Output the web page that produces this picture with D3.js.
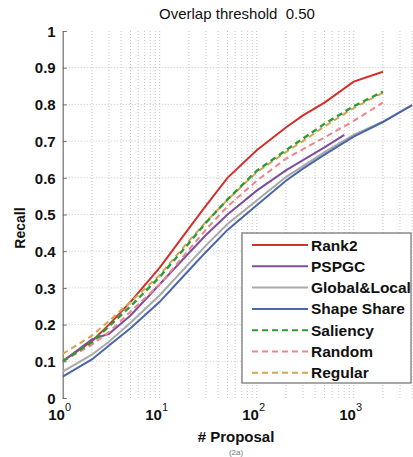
<!DOCTYPE html>
<html><head><meta charset="utf-8">
<script src="https://cdn.jsdelivr.net/npm/d3@7"></script>
<style>
html,body{margin:0;padding:0;background:#fff;}
svg text{font-family:"Liberation Sans",Arial,Helvetica,sans-serif;fill:#111;white-space:pre;}
</style></head>
<body>
<script>
// ---- data ----
const proposals = [1, 2, 3, 5, 10, 20, 30, 50, 100, 200, 300, 500, 800, 1000, 2000, 4000];
const seriesNames = ["Rank2", "PSPGC", "Global&Local", "Shape Share", "Saliency", "Random", "Regular"];
const rank2       = [0.100, 0.155, 0.200, 0.262, 0.355, 0.462, 0.524, 0.600, 0.675, 0.737, 0.770, 0.805, null, 0.862, 0.889, null];
const pspgc       = [0.100, 0.160, 0.175, 0.225, 0.310, 0.395, 0.444, 0.500, 0.565, 0.620, 0.648, 0.683, 0.717, null, null, null];
const globalLocal = [0.072, 0.118, 0.153, 0.205, 0.280, 0.366, 0.416, 0.474, 0.538, 0.602, 0.632, 0.670, null, 0.717, 0.753, 0.798];
const shapeShare  = [0.058, 0.105, 0.143, 0.190, 0.262, 0.348, 0.398, 0.458, 0.525, 0.592, 0.625, 0.663, null, 0.712, 0.752, 0.798];
const saliency    = [0.100, 0.152, 0.195, 0.250, 0.330, 0.422, 0.478, 0.541, 0.619, 0.675, 0.707, 0.747, null, 0.795, 0.835, null];
const randomS     = [0.100, 0.145, 0.180, 0.235, 0.310, 0.404, 0.459, 0.522, 0.592, 0.652, 0.678, 0.710, null, 0.755, 0.805, null];
const regular     = [0.120, 0.170, 0.210, 0.262, 0.335, 0.428, 0.480, 0.540, 0.615, 0.670, 0.700, 0.740, null, 0.790, 0.832, null];
const seriesValues = [rank2, pspgc, globalLocal, shapeShare, saliency, randomS, regular];
const seriesColors = ["#d2302a", "#7d4e9c", "#a9a9a9", "#4866a8", "#2e9a35", "#f0848a", "#d4a552"];
const seriesDashed = [false, false, false, false, true, true, true];
const yTicks = [0, 0.1, 0.2, 0.3, 0.4, 0.5, 0.6, 0.7, 0.8, 0.9, 1];
const yTickLabels = ["0", "0.1", "0.2", "0.3", "0.4", "0.5", "0.6", "0.7", "0.8", "0.9", "1"];
const xDecades = [1, 10, 100, 1000];
const xDecadeExps = ["0", "1", "2", "3"];
const titleText = "Overlap threshold  0.50";
const xLabel = "# Proposal";
const yLabel = "Recall";
const captionText = "(2a)";

// ---- layout ----
const W = 413, H = 457;
const L = 62.7, T = 31, B = 398, R = 450.7;
const svg = d3.select("body").append("svg").attr("width", W).attr("height", H);
const x = d3.scaleLog().domain([1, 10000]).range([L, R]);
const y = d3.scaleLinear().domain([0, 1]).range([B, T]);

svg.append("defs").append("clipPath").attr("id", "clip")
  .append("rect").attr("x", L).attr("y", T - 2).attr("width", R - L).attr("height", B - T + 4);

// grid
const minor = [];
for (let d = 1; d < 10000; d *= 10) for (let k = 1; k < 10; k++) minor.push(d * k);
const g = svg.append("g").attr("clip-path", "url(#clip)");
g.selectAll(".vg").data(minor.filter(v => v > 1)).enter().append("line")
  .attr("x1", d => x(d)).attr("x2", d => x(d)).attr("y1", T).attr("y2", B)
  .attr("stroke", "#b5b5b5").attr("stroke-width", 0.8).attr("stroke-dasharray", "1,2");
g.selectAll(".hg").data(yTicks.filter(v => v > 0 && v < 1)).enter().append("line")
  .attr("x1", L).attr("x2", R).attr("y1", d => y(d)).attr("y2", d => y(d))
  .attr("stroke", "#b5b5b5").attr("stroke-width", 0.8).attr("stroke-dasharray", "1,2");

// axes via d3
const axB = d3.axisBottom(x).tickValues(minor).tickSize(-4).tickFormat("");
const axT = d3.axisTop(x).tickValues(minor).tickSize(-4).tickFormat("");
const axL = d3.axisLeft(y).tickValues(yTicks).tickSize(-4).tickFormat((d, i) => yTickLabels[i]);
const gb = svg.append("g").attr("transform", `translate(0,${B})`).attr("clip-path", "url(#clip)").call(axB);
const gt = svg.append("g").attr("transform", `translate(0,${T})`).attr("clip-path", "url(#clip)").call(axT);
const gl = svg.append("g").attr("transform", `translate(${L},0)`).call(axL);
[gb, gt, gl].forEach(a => {
  a.selectAll(".domain").attr("stroke", "#6f6f6f").attr("stroke-width", 1.2);
  a.selectAll(".tick line").attr("stroke", "#6f6f6f");
});
gl.selectAll(".tick text").attr("x", -7).style("font-size", "15px").style("font-weight", "bold")
  .attr("dy", "0.35em");

// x tick labels (10^n)
const xl = svg.append("g");
xDecades.forEach((d, i) => {
  const t = xl.append("text").attr("x", x(d) - 3).attr("y", 420).attr("text-anchor", "middle")
    .style("font-size", "15px").style("font-weight", "bold");
  t.append("tspan").text("10");
  t.append("tspan").attr("dy", -9).style("font-size", "11px").style("font-weight", "normal").text(xDecadeExps[i]);
});

// lines
const line = d3.line().x(d => x(d[0])).y(d => y(d[1]));
const lg = svg.append("g").attr("clip-path", "url(#clip)");
const order = [0, 1, 2, 3, 5, 6, 4];
order.forEach(si => {
  const pts = proposals.map((p, i) => [p, seriesValues[si][i]]).filter(d => d[1] != null);
  lg.append("path").datum(pts).attr("d", line).attr("fill", "none")
    .attr("stroke", seriesColors[si]).attr("stroke-width", si === 4 ? 2.4 : 2)
    .attr("stroke-dasharray", seriesDashed[si] ? "6,4" : null);
});

// legend
const lgx = 242, lgy = 233, lgw = 169, lgh = 150;
const leg = svg.append("g");
leg.append("rect").attr("x", lgx).attr("y", lgy).attr("width", lgw).attr("height", lgh)
  .attr("fill", "#fff").attr("stroke", "#6f6f6f").attr("stroke-width", 1.2);
seriesNames.forEach((n, i) => {
  const yy = 245 + i * 21.3;
  leg.append("line").attr("x1", 252).attr("x2", 308).attr("y1", yy).attr("y2", yy)
    .attr("stroke", seriesColors[i]).attr("stroke-width", 2)
    .attr("stroke-dasharray", seriesDashed[i] ? "6,4" : null);
  leg.append("text").attr("x", 311).attr("y", yy).attr("dy", "0.36em")
    .style("font-size", "15.5px").style("font-weight", "bold").text(n);
});

// titles
svg.append("text").attr("x", 237).attr("y", 19).attr("text-anchor", "middle")
  .style("font-size", "15px").text(titleText);
svg.append("text").attr("x", 236).attr("y", 442).attr("text-anchor", "middle")
  .style("font-size", "15px").style("font-weight", "bold").text(xLabel);
svg.append("text").attr("x", 236).attr("y", 455).attr("text-anchor", "middle")
  .style("font-size", "8px").style("fill", "#777").text(captionText);
svg.append("text").attr("transform", "translate(25,228) rotate(-90)").attr("text-anchor", "middle")
  .style("font-size", "14px").style("font-weight", "bold").text(yLabel);
</script>
</body></html>
